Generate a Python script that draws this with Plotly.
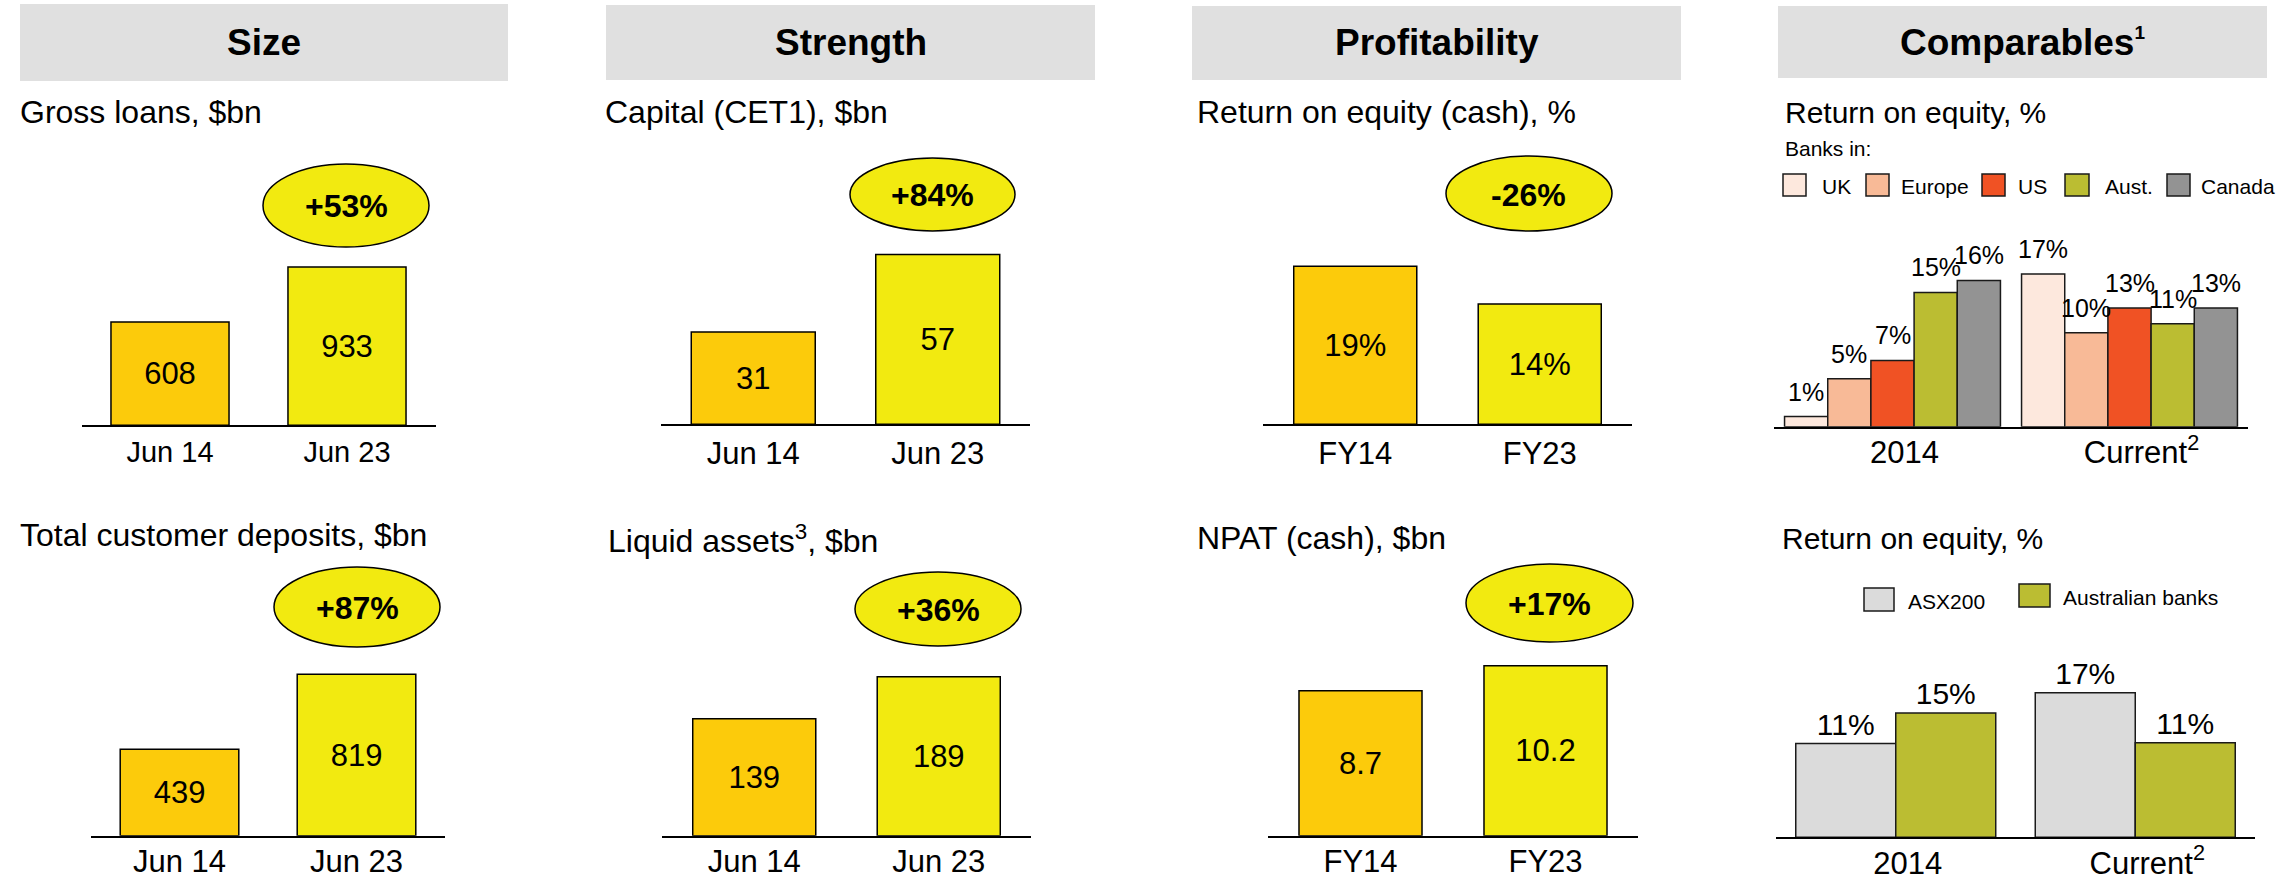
import plotly.graph_objects as go

W, H = 2293, 879
FONT = "Liberation Sans, Arial, sans-serif"

# ---------------- data ----------------
balance_periods = ["Jun 14", "Jun 23"]
fy_periods = ["FY14", "FY23"]
gross_loans = [608, 933]
customer_deposits = [439, 819]
cet1_capital = [31, 57]
liquid_assets = [139, 189]
roe_cash = [18.8, 14.3]
npat_cash = [8.7, 10.2]
growth_labels = ["+53%", "+87%", "+84%", "+36%", "-26%", "+17%"]

panel_titles = ["Gross loans, $bn", "Total customer deposits, $bn",
                "Capital (CET1), $bn", "Liquid assets<sup>3</sup>, $bn",
                "Return on equity (cash), %", "NPAT (cash), $bn"]
section_titles = ["Size", "Strength", "Profitability",
                  "Comparables<sup><span style='font-size:19px'>1</span></sup>"]

comp_groups = ["2014", "Current<sup>2</sup>"]
bank_regions = ["UK", "Europe", "US", "Aust.", "Canada"]
roe_2014 = [1.1, 5.2, 7.2, 14.6, 15.9]
roe_current = [16.6, 10.2, 12.9, 11.2, 12.9]

index_names = ["ASX200", "Australian banks"]
asx200_roe = [11.1, 17.1]
aus_banks_roe = [14.7, 11.2]

# ---------------- styles ----------------
col_old, col_new = "#FCCB0B", "#F2EA10"
region_colors = ["#FDE8DD", "#F8BA97", "#F05224", "#BBBD32", "#939393"]
index_colors = ["#DBDBDB", "#BBBD32"]
header_gray = "#E0E0E0"


def pxx(x):
    return x / W


def pyy(y):
    return 1 - y / H


fig = go.Figure()
layout = dict(width=W, height=H, margin=dict(l=0, r=0, t=0, b=0, pad=0, autoexpand=False),
              autosize=False,
              paper_bgcolor="white", plot_bgcolor="rgba(0,0,0,0)",
              showlegend=False, font=dict(family=FONT, color="black"),
              barmode="group")
shapes, annots = [], []

simple_panels = [
    dict(cats=balance_periods, vals=gross_loans, tmpl="%{y}", x0=81.5, x1=435.5, base=425.3, ppu=0.1698, bw=0.667, tick=29, so=0,
         ell=(263, 164, 429, 247), title=(18, 112)),
    dict(cats=balance_periods, vals=customer_deposits, tmpl="%{y}", x0=91, x1=445, base=835.7, ppu=0.197, bw=0.670, tick=31, so=-3,
         ell=(274, 567, 440, 647), title=(18, 535)),
    dict(cats=balance_periods, vals=cet1_capital, tmpl="%{y}", x0=661, x1=1030, base=424.3, ppu=2.98, bw=0.672, tick=31, so=0,
         ell=(850, 158, 1015, 231), title=(603, 112)),
    dict(cats=balance_periods, vals=liquid_assets, tmpl="%{y}", x0=662, x1=1031, base=835.7, ppu=0.8415, bw=0.667, tick=31, so=-3,
         ell=(855, 572, 1021, 646), title=(606, 539)),
    dict(cats=fy_periods, vals=roe_cash, tmpl="%{y:.0f}%", x0=1263, x1=1632, base=424.3, ppu=8.41, bw=0.667, tick=31, so=0,
         ell=(1446, 156, 1612, 231), title=(1195, 112)),
    dict(cats=fy_periods, vals=npat_cash, tmpl="%{y:.1f}", x0=1268, x1=1638, base=835.7, ppu=16.65, bw=0.665, tick=31, so=-3,
         ell=(1466, 564, 1633, 642), title=(1195, 538)),
]

SPAN = 180  # pixel height of every y domain

for i, p in enumerate(simple_panels):
    n = i + 1
    xa = "x" if n == 1 else f"x{n}"
    ya = "y" if n == 1 else f"y{n}"
    fig.add_trace(go.Bar(
        x=p["cats"], y=p["vals"], xaxis=xa, yaxis=ya, width=p["bw"],
        marker=dict(color=[col_old, col_new], line=dict(color="black", width=1.5)),
        texttemplate=p["tmpl"], textposition="inside", insidetextanchor="middle",
        constraintext="none", textfont=dict(size=31, color="black", family=FONT),
        hoverinfo="skip"))
    layout[f"xaxis{'' if n == 1 else n}"] = dict(
        domain=[pxx(p["x0"]), pxx(p["x1"])], anchor=ya, type="category",
        range=[-0.5, 1.5], showline=True, linecolor="black", linewidth=2,
        ticks="", showgrid=False, zeroline=False, fixedrange=True, automargin=False,
        tickfont=dict(size=p["tick"], color="black", family=FONT),
        ticklabelstandoff=p["so"])
    layout[f"yaxis{'' if n == 1 else n}"] = dict(
        domain=[pyy(p["base"]), pyy(p["base"] - SPAN)], anchor=xa,
        range=[0, SPAN / p["ppu"]], visible=False, fixedrange=True, automargin=False)
    ex0, ey0, ex1, ey1 = p["ell"]
    shapes.append(dict(type="circle", xref="paper", yref="paper",
                       x0=pxx(ex0), x1=pxx(ex1), y0=pyy(ey1), y1=pyy(ey0),
                       fillcolor=col_new, line=dict(color="black", width=1.5)))
    annots.append(dict(xref="paper", yref="paper", x=pxx((ex0 + ex1) / 2), y=pyy((ey0 + ey1) / 2 + 1),
                       text=f"<b>{growth_labels[i]}</b>", showarrow=False,
                       xanchor="center", yanchor="middle", font=dict(size=32, color="black")))
    tx, ty = p["title"]
    annots.append(dict(xref="paper", yref="paper", x=pxx(tx), y=pyy(ty), text=panel_titles[i],
                       showarrow=False, xanchor="left", yanchor="middle", font=dict(size=32, color="black")))

# ---------- comparables: bank regions ----------
grp = 0.911
bw = grp / len(bank_regions)
for j, name in enumerate(bank_regions):
    vals = [roe_2014[j], roe_current[j]]
    off = -grp / 2 + j * bw
    fig.add_trace(go.Bar(
        x=comp_groups, y=vals, name=name, xaxis="x7", yaxis="y7",
        width=bw, offset=off,
        marker=dict(color=region_colors[j], line=dict(color="#1a1a1a", width=1.5)),
        hoverinfo="skip"))
    for k, v in enumerate(vals):
        annots.append(dict(xref="x7", yref="y7", x=k + off + bw / 2, y=v, text=f"{v:.0f}%",
                           showarrow=False, xanchor="center", yanchor="bottom", yshift=9,
                           font=dict(size=25, color="black")))
layout["xaxis7"] = dict(domain=[pxx(1774), pxx(2248)], anchor="y7", type="category",
                        range=[-0.5, 1.5], showline=True, linecolor="black", linewidth=2,
                        ticks="", showgrid=False, zeroline=False, fixedrange=True, automargin=False,
                        tickfont=dict(size=31, color="black", family=FONT),
                        ticklabelstandoff=-3, ticklabelshift=12)
layout["yaxis7"] = dict(domain=[pyy(426.7), pyy(426.7 - SPAN)], anchor="x7",
                        range=[0, SPAN / 9.2], visible=False, fixedrange=True, automargin=False)

# ---------- comparables: ASX200 vs Australian banks ----------
grp2 = 0.835
bw2 = grp2 / len(index_names)
for j, (name, vals) in enumerate(zip(index_names, [asx200_roe, aus_banks_roe])):
    fig.add_trace(go.Bar(
        x=comp_groups, y=vals, name=name, xaxis="x8", yaxis="y8",
        width=bw2, offset=-grp2 / 2 + j * bw2,
        marker=dict(color=index_colors[j], line=dict(color="#1a1a1a", width=1.5)),
        texttemplate="%{y:.0f}%", textposition="outside", cliponaxis=False,
        constraintext="none", textfont=dict(size=30, color="black", family=FONT),
        hoverinfo="skip"))
layout["xaxis8"] = dict(domain=[pxx(1776), pxx(2255)], anchor="y8", type="category",
                        range=[-0.5, 1.5], showline=True, linecolor="black", linewidth=2,
                        ticks="", showgrid=False, zeroline=False, fixedrange=True, automargin=False,
                        tickfont=dict(size=31, color="black", family=FONT),
                        ticklabelstandoff=-3, ticklabelshift=12)
layout["yaxis8"] = dict(domain=[pyy(837.3), pyy(837.3 - SPAN)], anchor="x8",
                        range=[0, SPAN / 8.45], visible=False, fixedrange=True, automargin=False)

# ---------- section headers ----------
header_boxes = [(20, 4, 508, 81), (606, 5, 1095, 80), (1192, 6, 1681, 80), (1778, 6, 2267, 78)]
for (x0, y0, x1, y1), t in zip(header_boxes, section_titles):
    shapes.append(dict(type="rect", xref="paper", yref="paper", x0=pxx(x0), x1=pxx(x1),
                       y0=pyy(y1), y1=pyy(y0), fillcolor=header_gray, line=dict(width=0), layer="below"))
    annots.append(dict(xref="paper", yref="paper", x=pxx((x0 + x1) / 2), y=pyy(43),
                       text=f"<b>{t}</b>", showarrow=False, xanchor="center", yanchor="middle",
                       font=dict(size=37, color="black")))

# comparables subtitles
annots.append(dict(xref="paper", yref="paper", x=pxx(1783), y=pyy(112), text="Return on equity, %",
                   showarrow=False, xanchor="left", yanchor="middle", font=dict(size=30, color="black")))
annots.append(dict(xref="paper", yref="paper", x=pxx(1780), y=pyy(538), text="Return on equity, %",
                   showarrow=False, xanchor="left", yanchor="middle", font=dict(size=30, color="black")))
annots.append(dict(xref="paper", yref="paper", x=pxx(1783), y=pyy(148), text="Banks in:",
                   showarrow=False, xanchor="left", yanchor="middle", font=dict(size=21, color="black")))

# legend (regions)
leg_sq = [(1783, 1806), (1866, 1889), (1982, 2005), (2065, 2089), (2167, 2190)]
leg_tx = [1819.5, 1899, 2015.6, 2102.6, 2198.5]
for (x0, x1), tx, name, c in zip(leg_sq, leg_tx, bank_regions, region_colors):
    shapes.append(dict(type="rect", xref="paper", yref="paper", x0=pxx(x0), x1=pxx(x1),
                       y0=pyy(196), y1=pyy(174), fillcolor=c, line=dict(color="#1a1a1a", width=1.5)))
    annots.append(dict(xref="paper", yref="paper", x=pxx(tx), y=pyy(187), text=name, showarrow=False,
                       xanchor="left", yanchor="middle", font=dict(size=21, color="black")))

# legend (indices)
leg2 = [((1864, 588, 1894, 611), (1905.5, 601)), ((2019, 584, 2050, 607), (2061, 597))]
for ((x0, y0, x1, y1), (tx, ty)), name, c in zip(leg2, index_names, index_colors):
    shapes.append(dict(type="rect", xref="paper", yref="paper", x0=pxx(x0), x1=pxx(x1),
                       y0=pyy(y1), y1=pyy(y0), fillcolor=c, line=dict(color="#1a1a1a", width=1.5)))
    annots.append(dict(xref="paper", yref="paper", x=pxx(tx), y=pyy(ty), text=name, showarrow=False,
                       xanchor="left", yanchor="middle", font=dict(size=21, color="black")))

layout["shapes"] = shapes
layout["annotations"] = annots
fig.update_layout(**layout)
fig.write_html("out.html", config={"displayModeBar": False, "responsive": False})

# remove the default page margin so the figure fills the window exactly
with open("out.html", "r", encoding="utf-8") as f:
    html = f.read()
html = html.replace("<head>", "<head><style>html,body{margin:0;padding:0;overflow:hidden;}</style>", 1)
with open("out.html", "w", encoding="utf-8") as f:
    f.write(html)
